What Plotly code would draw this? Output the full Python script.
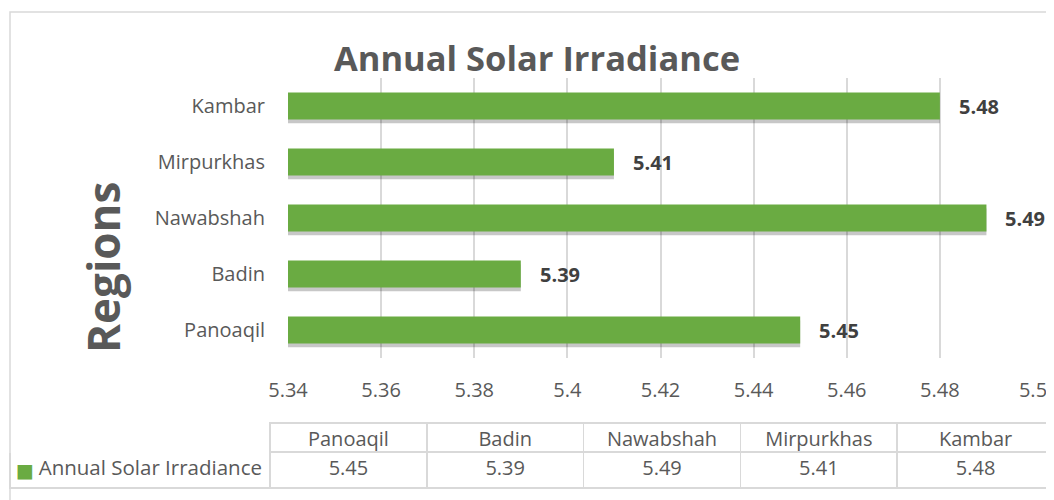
import plotly.graph_objects as go

regions = ["Panoaqil", "Badin", "Nawabshah", "Mirpurkhas", "Kambar"]
irradiance = [5.45, 5.39, 5.49, 5.41, 5.48]
series_name = "Annual Solar Irradiance"
x_ticks = [5.34, 5.36, 5.38, 5.40, 5.42, 5.44, 5.46, 5.48, 5.50]
x_tick_labels = ["5.34", "5.36", "5.38", "5.4", "5.42", "5.44", "5.46", "5.48", "5.5"]
axis_min = 5.34

# page is shown with an 8px body margin; size the figure to the visible area
PAGE_OFF = 8
W, H = 1054 - PAGE_OFF, 500 - PAGE_OFF


def fx(px):
    return (px - PAGE_OFF) / W


def fy(py):
    return 1 - (py - PAGE_OFF) / H


FONT = "Open Sans"
GREEN = "#6aab42"
TXT = "#595959"
GRID = "#d9d9d9"

fig = go.Figure()

# soft shadow under each bar
fig.add_trace(go.Bar(
    y=regions, x=[v - axis_min for v in irradiance], base=axis_min, orientation="h",
    width=0.48, offset=-0.24 - 0.07,
    marker=dict(color="rgba(0,0,0,0.22)", line=dict(width=0)),
    hoverinfo="skip", showlegend=False,
))
fig.add_trace(go.Bar(
    y=regions, x=[v - axis_min for v in irradiance], base=axis_min, orientation="h",
    width=0.48, offset=-0.24,
    marker=dict(color=GREEN, line=dict(width=0)),
    name=series_name, showlegend=False,
))

for r, v in zip(regions, irradiance):
    fig.add_annotation(x=v, y=r, text=f"<b>{v:.2f}</b>", showarrow=False,
                       xanchor="left", xshift=17,
                       font=dict(family=FONT, size=20, color="#404040"))

# data table below the chart
fig.add_trace(go.Table(
    domain=dict(x=[fx(10), 1.0], y=[fy(490), fy(423)]),
    columnwidth=[262] + [158] * len(regions),
    header=dict(
        values=[""] + regions,
        fill_color="white",
        line=dict(color=["white"] + [GRID] * len(regions), width=1.5),
        font=dict(family=FONT, size=20, color=TXT),
        align="center", height=29,
    ),
    cells=dict(
        values=[[series_name]] + [[f"{v:.2f}"] for v in irradiance],
        fill_color="white",
        line=dict(color=GRID, width=1.5),
        font=dict(family=FONT, size=[20.5] + [20] * len(regions), color=TXT),
        align=["right"] + ["center"] * len(regions), height=36,
    ),
))

# legend key square in the table
fig.add_annotation(xref="paper", yref="paper", x=fx(24.5), y=fy(470),
                   xanchor="center", yanchor="middle", showarrow=False,
                   text="■", font=dict(family="DejaVu Sans", size=19, color=GREEN))

# rotated axis title
fig.add_annotation(xref="paper", yref="paper", x=fx(103), y=fy(268),
                   xanchor="center", yanchor="middle", showarrow=False, textangle=-90,
                   text="<b>Regions</b>", font=dict(family=FONT, size=44, color=TXT))

fig.update_layout(
    width=W, height=H,
    margin=dict(l=0, r=0, t=0, b=0),
    paper_bgcolor="white", plot_bgcolor="white",
    barmode="overlay",
    showlegend=False,
    title=dict(text="<b>Annual Solar Irradiance</b>", x=fx(537), xanchor="center",
               y=fy(59), yanchor="middle",
               font=dict(family=FONT, size=34.5, color=TXT)),
    xaxis=dict(domain=[fx(288), fx(1033)], range=[5.34, 5.50], automargin=False,
               tickvals=x_ticks, ticktext=x_tick_labels,
               showgrid=True, gridcolor=GRID, gridwidth=1.5,
               zeroline=False, showline=False, ticks="",
               tickfont=dict(family=FONT, size=20, color=TXT), ticklabelstandoff=18),
    yaxis=dict(domain=[fy(358), fy(78)], type="category", automargin=False,
               categoryorder="array", categoryarray=regions,
               showgrid=False, zeroline=False, showline=False, ticks="",
               tickfont=dict(family=FONT, size=20, color=TXT), ticklabelstandoff=22),
    shapes=[dict(type="rect", xref="paper", yref="paper",
                 x0=fx(10), x1=1.02, y0=-0.02, y1=fy(12),
                 line=dict(color=GRID, width=1.5), fillcolor="rgba(0,0,0,0)", layer="above")],
)

fig.write_html("out.html")
